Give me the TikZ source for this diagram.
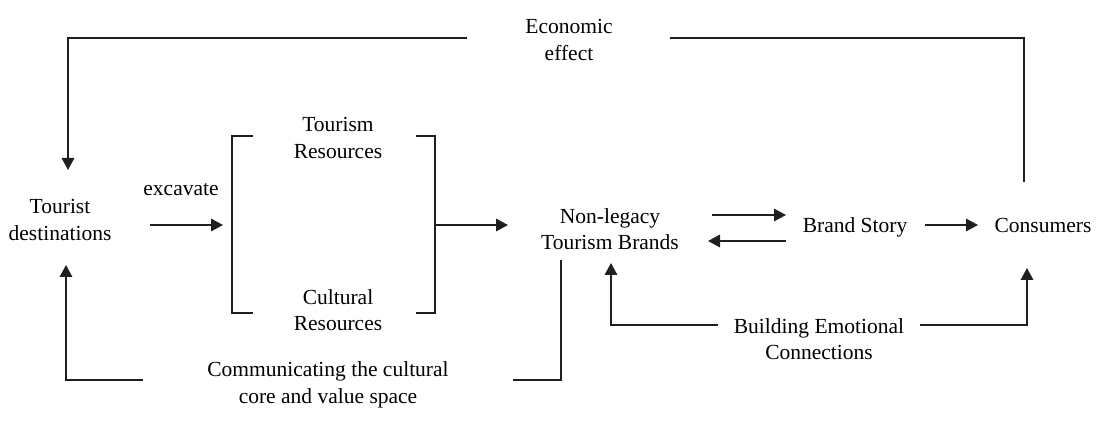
\documentclass[tikz,border=0pt]{standalone}
\usepackage{fontspec}
\setmainfont{Liberation Serif}
\usetikzlibrary{arrows.meta}
\begin{document}
\begin{tikzpicture}[x=1pt,y=-1pt,
  lbl/.style={align=center,inner sep=0pt,font=\fontsize{21.5}{26.5}\selectfont},
  conn/.style={line width=1.6pt,draw=black!88},
  arr/.style={conn,-{Triangle[length=12pt,width=12.5pt]}}]
\useasboundingbox (0,0) rectangle (1112,430);
% nodes
\node[lbl] (td) at (60,220) {Tourist\\destinations};
\node[lbl] (exc) at (181,190) {excavate};
\node[lbl] (tr) at (338,138) {Tourism\\Resources};
\node[lbl] (cr) at (338,310) {Cultural\\Resources};
\node[lbl] (nl) at (610,229) {Non-legacy\\Tourism Brands};
\node[lbl] (bs) at (855,227) {Brand Story};
\node[lbl] (con) at (1043,225) {Consumers};
\node[lbl] (ee) at (569,40) {Economic\\effect};
\node[lbl] (com) at (328,385) {Communicating the cultural\\core and value space};
\node[lbl] (bec) at (819,339) {Building Emotional\\Connections};
% coordinates
\coordinate (brL) at (232,225);
\coordinate (brR) at (435,225);
% bracket
\draw[conn] (253,136) -- (232,136) -- (232,313) -- (253,313);
\draw[conn] (416,136) -- (435,136) -- (435,313) -- (416,313);
% main flow
\draw[arr] (150,225) -- (223,225);
\draw[arr] (brR) -- (508,225);
\draw[arr] (712,215) -- (786,215);
\draw[arr] (786,241) -- (708,241);
\draw[arr] (925,225) -- (978,225);
% economic effect loop
\draw[arr] (467,38) -- (68,38) -- (68,170);
\draw[conn] (670,38) -- (1024,38) -- (1024,182);
% communicating loop
\draw[arr] (143,380) -- (66,380) -- (66,265);
\draw[conn] (513,380) -- (561,380) -- (561,260);
% emotional connections
\draw[arr] (718,325) -- (611,325) -- (611,263);
\draw[arr] (920,325) -- (1027,325) -- (1027,268);
\end{tikzpicture}
\end{document}
